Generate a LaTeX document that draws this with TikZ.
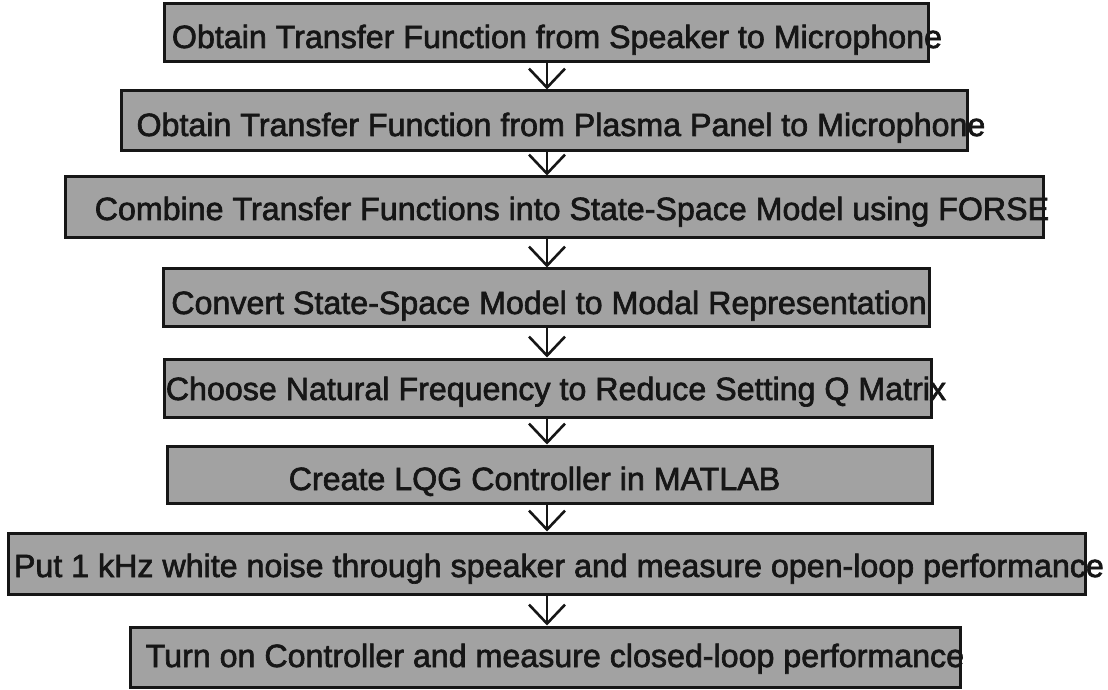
\documentclass[tikz,border=0pt]{standalone}
\usepackage{fontspec}
\setmainfont{Liberation Sans}
\newfontfamily\stepfont{Liberation Sans}[FakeBold=2]
\usetikzlibrary{arrows.meta}
\definecolor{boxgray}{RGB}{162,162,162}
\definecolor{ink}{RGB}{22,22,22}
\tikzset{
  stepbox/.style={draw=ink, line width=3pt, fill=boxgray, inner sep=0pt, minimum height=58pt},
  steptext/.style={anchor=base, inner sep=0pt, text=ink, font=\stepfont\fontsize{32.2}{38}\selectfont},
  flow/.style={draw=ink, line width=2.6pt, -{Straight Barb[length=19pt, width=36pt]}}
}
\begin{document}
\begin{tikzpicture}[x=1pt, y=1pt]
\useasboundingbox (0,0) rectangle (1108,689);
% boxes
\node[stepbox, minimum width=764pt, minimum height=58pt] (b1) at (546,656) {};
\node[stepbox, minimum width=846pt, minimum height=60pt] (b2) at (544,568) {};
\node[stepbox, minimum width=978pt, minimum height=61pt] (b3) at (554,481.5) {};
\node[stepbox, minimum width=766pt, minimum height=58pt] (b4) at (546,391) {};
\node[stepbox, minimum width=767pt, minimum height=58pt] (b5) at (547.5,301) {};
\node[stepbox, minimum width=765pt, minimum height=57pt] (b6) at (549.5,214.5) {};
\node[stepbox, minimum width=1077pt, minimum height=61pt] (b7) at (546.5,125.5) {};
\node[stepbox, minimum width=830pt, minimum height=60pt] (b8) at (545,32) {};
% texts
\node[steptext] (t1) at (557,641) {Obtain Transfer Function from Speaker to Microphone};
\node[steptext] (t2) at (561,553) {Obtain Transfer Function from Plasma Panel to Microphone};
\node[steptext] (t3) at (572,469) {Combine Transfer Functions into State-Space Model using FORSE};
\node[steptext] (t4) at (549,375) {Convert State-Space Model to Modal Representation};
\node[steptext] (t5) at (556,289) {Choose Natural Frequency to Reduce Setting Q Matrix};
\node[steptext] (t6) at (534.5,199) {Create LQG Controller in MATLAB};
\node[steptext] (t7) at (559,112) {Put 1 kHz white noise through speaker and measure open-loop performance};
\node[steptext] (t8) at (555,22) {Turn on Controller and measure closed-loop performance};
% connectors
\coordinate (ax) at (547,0);
\draw[flow] (b1.south -| ax) -- (b2.north -| ax);
\draw[flow] (b2.south -| ax) -- (b3.north -| ax);
\draw[flow] (b3.south -| ax) -- (b4.north -| ax);
\draw[flow] (b4.south -| ax) -- (b5.north -| ax);
\draw[flow] (b5.south -| ax) -- (b6.north -| ax);
\draw[flow] (b6.south -| ax) -- (b7.north -| ax);
\draw[flow] (b7.south -| ax) -- (b8.north -| ax);
\end{tikzpicture}
\end{document}
